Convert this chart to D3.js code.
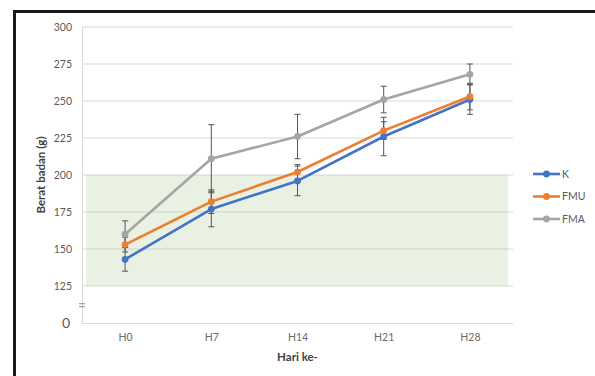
<!DOCTYPE html>
<html>
<head>
<meta charset="utf-8">
<script src="https://cdn.jsdelivr.net/npm/d3@7"></script>
<style>
  html, body { margin: 0; padding: 0; background: #fff; }
  svg { display: block; }
  text { font-family: Lato, "Open Sans", "Liberation Sans", sans-serif; }
</style>
</head>
<body>
<svg id="chart" width="595" height="376"></svg>
<script>
// Body weight per day group (g), mean and standard deviation
const categories = ["H0", "H7", "H14", "H21", "H28"];
const yTicks = [100, 125, 150, 175, 200, 225, 250, 275, 300];
const seriesNames = ["K", "FMU", "FMA"];
const kValues = [143, 177, 196, 226, 251];
const kErr = [8, 12, 10, 13, 10];
const fmuValues = [153, 182, 202, 230, 253];
const fmuErr = [5, 8, 5, 6, 9];
const fmaValues = [160, 211, 226, 251, 268];
const fmaErr = [9, 23, 15, 9, 7];
const normalRange = [125, 200];

const colors = { K: "#4472c4", FMU: "#ed7d31", FMA: "#a5a5a5" };
const series = [
  { name: "K", values: kValues, err: kErr },
  { name: "FMU", values: fmuValues, err: fmuErr },
  { name: "FMA", values: fmaValues, err: fmaErr }
];

const svg = d3.select("#chart");

// outer frame
svg.append("rect")
  .attr("x", 14.5).attr("y", 11.5)
  .attr("width", 700).attr("height", 500)
  .attr("fill", "none").attr("stroke", "#1a1a1a").attr("stroke-width", 3);

const plot = { left: 82, right: 513, top: 27, bottom: 323 };

const x = d3.scalePoint().domain(categories)
  .range([plot.left, plot.right]).padding(0.5);
// axis is broken below 125: the baseline stands for 0
const y = d3.scaleLinear().domain([100, 300]).range([plot.bottom, plot.top]);

// gridlines
svg.append("g").selectAll("line")
  .data(yTicks.filter(v => v > 100))
  .join("line")
  .attr("x1", plot.left).attr("x2", plot.right)
  .attr("y1", d => y(d)).attr("y2", d => y(d))
  .attr("stroke", "#d9d9d9").attr("stroke-width", 1);

// shaded normal range
svg.append("rect")
  .attr("x", plot.left + 4)
  .attr("width", plot.right - plot.left - 9)
  .attr("y", y(normalRange[1]))
  .attr("height", y(normalRange[0]) - y(normalRange[1]))
  .attr("fill", "#abc78f").attr("fill-opacity", 0.26);

// y axis
const yAxis = d3.axisLeft(y).tickValues(yTicks).tickSize(0).tickPadding(10)
  .tickFormat(d => d === 100 ? "0" : String(d));
const gy = svg.append("g").attr("transform", `translate(${plot.left},0)`).call(yAxis);
gy.select(".domain").attr("stroke", "#d9d9d9");
gy.selectAll("text").attr("fill", "#595959").attr("font-size", 10.5);
gy.selectAll(".tick").filter(d => d === 100).select("text")
  .attr("font-size", 14).attr("dy", "0.32em").attr("x", -12);

// axis break marks
[-1.5, 1.5].forEach(off => {
  svg.append("line")
    .attr("x1", plot.left - 3).attr("x2", plot.left + 3)
    .attr("y1", y(112) + off).attr("y2", y(112) + off)
    .attr("stroke", "#8c8c8c").attr("stroke-width", 1);
});

// x axis
const xAxis = d3.axisBottom(x).tickSize(0).tickPadding(11);
const gx = svg.append("g").attr("transform", `translate(0,${plot.bottom})`).call(xAxis);
gx.select(".domain").attr("stroke", "#d9d9d9").attr("d", `M${plot.left},0.5H${plot.right}`);
gx.selectAll("text").attr("fill", "#6b6b6b").attr("font-size", 10.5);

// axis titles
svg.append("text")
  .attr("x", (plot.left + plot.right) / 2).attr("y", 361)
  .attr("text-anchor", "middle").attr("font-size", 11.5).attr("font-weight", "bold")
  .attr("fill", "#404040").text("Hari ke-");
svg.append("text")
  .attr("transform", `translate(45,${y(200)}) rotate(-90)`)
  .attr("text-anchor", "middle").attr("font-size", 11.5).attr("font-weight", "bold")
  .attr("fill", "#404040").text("Berat badan (g)");

// error bars
const capHalf = 3;
series.forEach(s => {
  const g = svg.append("g").attr("stroke", "#555").attr("stroke-width", 1);
  s.values.forEach((v, i) => {
    const cx = x(categories[i]);
    const hi = y(v + s.err[i]), lo = y(v - s.err[i]);
    g.append("line").attr("x1", cx).attr("x2", cx).attr("y1", hi).attr("y2", lo);
    g.append("line").attr("x1", cx - capHalf).attr("x2", cx + capHalf).attr("y1", hi).attr("y2", hi);
    g.append("line").attr("x1", cx - capHalf).attr("x2", cx + capHalf).attr("y1", lo).attr("y2", lo);
  });
});

// lines and markers
const line = d3.line().x((d, i) => x(categories[i])).y(d => y(d));
series.forEach(s => {
  svg.append("path").datum(s.values)
    .attr("d", line).attr("fill", "none")
    .attr("stroke", colors[s.name]).attr("stroke-width", 2.6)
    .attr("stroke-linejoin", "round").attr("stroke-linecap", "round");
  svg.append("g").selectAll("circle").data(s.values).join("circle")
    .attr("cx", (d, i) => x(categories[i])).attr("cy", d => y(d))
    .attr("r", 3.4).attr("fill", colors[s.name]);
});

// legend
const legend = svg.append("g");
seriesNames.forEach((name, i) => {
  const ly = 174 + i * 22.5;
  legend.append("line").attr("x1", 533).attr("x2", 560).attr("y1", ly).attr("y2", ly)
    .attr("stroke", colors[name]).attr("stroke-width", 2.6);
  legend.append("circle").attr("cx", 546.5).attr("cy", ly).attr("r", 3.4).attr("fill", colors[name]);
  legend.append("text").attr("x", 562).attr("y", ly).attr("dy", "0.35em")
    .attr("font-size", 10.5).attr("fill", "#595959").text(name);
});
</script>
</body>
</html>
